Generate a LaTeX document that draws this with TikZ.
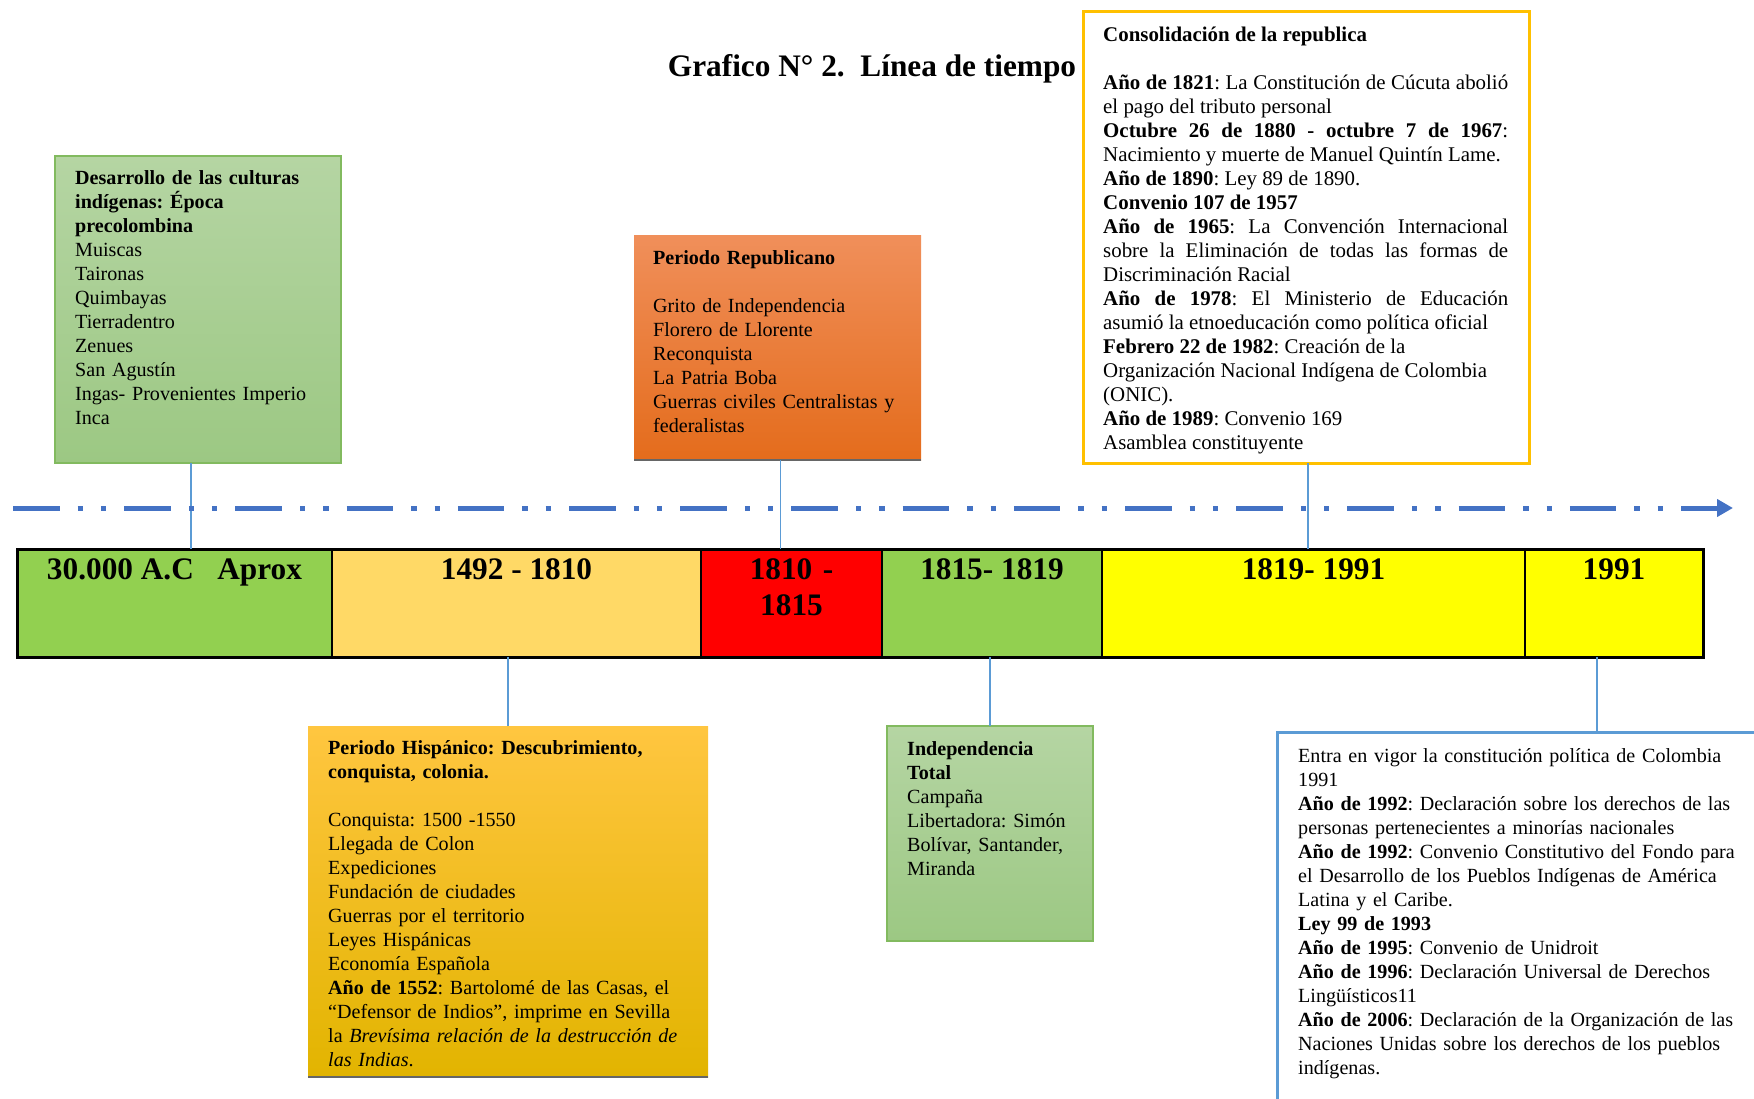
\documentclass[tikz,border=0pt]{standalone}
\usepackage{fontspec}
\setmainfont{Liberation Serif}
\usepackage{tikz}
\usetikzlibrary{arrows.meta,positioning,fit}
\usepackage{xcolor}
\frenchspacing

\definecolor{lineblue}{RGB}{68,114,196}
\definecolor{linkblue}{RGB}{91,155,213}
\definecolor{barGreen}{RGB}{146,208,80}
\definecolor{barSand}{RGB}{255,217,102}
\definecolor{barRed}{RGB}{255,0,0}
\definecolor{barYellow}{RGB}{255,255,0}
\definecolor{gold}{RGB}{255,192,0}
\definecolor{goldTop}{RGB}{255,198,64}
\definecolor{goldBot}{RGB}{226,180,0}
\definecolor{greenTop}{RGB}{181,213,163}
\definecolor{greenBot}{RGB}{156,200,131}
\definecolor{greenEdge}{RGB}{130,186,95}
\definecolor{orangeTop}{RGB}{240,143,90}
\definecolor{orangeBot}{RGB}{228,108,28}

\begin{document}
\begin{tikzpicture}[x=1pt,y=-1pt,
	greenbox/.style={top color=greenTop,bottom color=greenBot,draw=greenEdge,line width=1.5},
	shadowedge/.style={draw=black!60,line width=2.5},
	link/.style={draw=linkblue,line width=1.2},
	timeline/.style={draw=lineblue,line width=5,dash pattern=on 46.6pt off 18pt on 5.3pt off 18pt on 5.3pt off 18pt,-{Triangle[length=16pt,width=17pt]}}]
	\useasboundingbox (0,0) rectangle (1754,1099);
	\clip (0,0) rectangle (1754,1099);

	\begin{scope}[every node/.style={rectangle,anchor=north west,inner sep=0pt,outer sep=0pt}]
		\node[greenbox,minimum width=286,minimum height=307] (cultures) at (55,156) {};
		\node[top color=orangeTop,bottom color=orangeBot,minimum width=287,minimum height=224] (republic) at (634,236) {};
		\node[draw=gold,line width=3,fill=white,minimum width=446,minimum height=451] (consol) at (1083,12) {};
		\node[top color=goldTop,middle color=gold,bottom color=goldBot,minimum width=400,minimum height=351] (hispanic) at (308,726) {};
		\node[greenbox,minimum width=206,minimum height=215] (indep) at (887,726) {};
		\node[draw=linkblue,line width=3,fill=white,minimum width=640,minimum height=500] (charter) at (1277,732) {};
	\end{scope}
	\draw[shadowedge] (republic.south west) -- (republic.south east);
	\draw[shadowedge] (hispanic.south west) -- (hispanic.south east);

	\begin{scope}[every node/.style={rectangle,draw,line width=2,outer sep=0pt,inner sep=0pt,minimum height=108}]
		\node[fill=barGreen,minimum width=315,anchor=north west] (s1) at (17,549) {};
		\node[fill=barSand,minimum width=369,right=0pt of s1] (s2) {};
		\node[fill=barRed,minimum width=181,right=0pt of s2] (s3) {};
		\node[fill=barGreen,minimum width=220,right=0pt of s3] (s4) {};
		\node[fill=barYellow,minimum width=423,right=0pt of s4] (s5) {};
		\node[fill=barYellow,minimum width=178,right=0pt of s5] (s6) {};
		\node[fit=(s1) (s6),line width=3] (bar) {};
	\end{scope}

	\begin{scope}[every node/.style={font=\fontsize{31.3}{36}\selectfont\bfseries,inner sep=0pt,anchor=base}]
		\node (title) at (872,77) {Grafico N° 2.\ \ Línea de tiempo};
		\node (y1) at ([shift={(0,30)}]s1.north) {30.000 A.C\ \ \ Aprox};
		\node (y2) at ([shift={(0,30)}]s2.north) {1492 - 1810};
		\node[text width=170,align=center] (y3) at ([shift={(0,30)}]s3.north) {1810 -\\1815};
		\node (y4) at ([shift={(0,30)}]s4.north) {1815- 1819};
		\node (y5) at ([shift={(0,30)}]s5.north) {1819- 1991};
		\node (y6) at ([shift={(0,30)}]s6.north) {1991};
	\end{scope}

	\draw[link] ([xshift=-7pt]cultures.south) -- ([xshift=-7pt]cultures.south |- s1.north);
	\draw[link] ([xshift=3pt]republic.south) -- ([xshift=3pt]republic.south |- s3.north);
	\draw[link] ([xshift=2pt]consol.south) -- ([xshift=2pt]consol.south |- s5.north);
	\draw[link] (hispanic.north) -- (hispanic.north |- s2.south);
	\draw[link] (indep.north) -- (indep.north |- s4.south);
	\draw[link] (charter.north) -- (charter.north |- s6.south);

	\coordinate (tstart) at (13,508);
	\coordinate (tend) at (1733,508);
	\draw[timeline] (tstart) -- (tend);

	\begin{scope}[every node/.style={font=\fontsize{20.1}{24}\selectfont,inner sep=0pt,anchor=base west,align=left}]
		\node[text width=260] (culturestext) at ([shift={(20,29)}]cultures.north west) {\textbf{Desarrollo de las culturas}\\ \textbf{indígenas: Época}\\ \textbf{precolombina}\\ Muiscas\\ Taironas\\ Quimbayas\\ Tierradentro\\ Zenues\\ San Agustín\\ Ingas- Provenientes Imperio\\ Inca};
		\node[text width=262] (republictext) at ([shift={(19,29)}]republic.north west) {\textbf{Periodo Republicano}\\[24pt] Grito de Independencia\\ Florero de Llorente\\ Reconquista\\ La Patria Boba\\ Guerras civiles Centralistas y\\ federalistas};
		\node[text width=405,align=justify,font=\fontsize{20.9}{24}\selectfont] (consoltext) at ([shift={(20,30)}]consol.north west) {\textbf{Consolidación de la republica}\\[24pt]
			\textbf{Año de 1821}: La Constitución de Cúcuta abolió\linebreak el pago del tributo personal\\
			\textbf{Octubre 26 de 1880 - octubre 7 de 1967}:\linebreak Nacimiento y muerte de Manuel Quintín Lame.\\
			\textbf{Año de 1890}: Ley 89 de 1890.\\
			\textbf{Convenio 107 de 1957}\\
			\textbf{Año de 1965}: La Convención Internacional\linebreak sobre la Eliminación de todas las formas de\linebreak Discriminación Racial\\
			\textbf{Año de 1978}: El Ministerio de Educación\linebreak asumió la etnoeducación como política oficial\\
			\textbf{Febrero 22 de 1982}: Creación de la\\ Organización Nacional Indígena de Colombia\\ (ONIC).\\
			\textbf{Año de 1989}: Convenio 169\\
			Asamblea constituyente};
		\node[text width=375] (hispanictext) at ([shift={(20,28)}]hispanic.north west) {\textbf{Periodo Hispánico: Descubrimiento,}\\ \textbf{conquista, colonia.}\\[24pt] Conquista: 1500 -1550\\ Llegada de Colon\\ Expediciones\\ Fundación de ciudades\\ Guerras por el territorio\\ Leyes Hispánicas\\ Economía Española\\ \textbf{Año de 1552}: Bartolomé de las Casas, el\\ “Defensor de Indios”, imprime en Sevilla\\ la \textit{Brevísima relación de la destrucción de}\\ \textit{las Indias}.};
		\node[text width=185] (indeptext) at ([shift={(20,29)}]indep.north west) {\textbf{Independencia}\\ \textbf{Total}\\ Campaña\\ Libertadora: Simón\\ Bolívar, Santander,\\ Miranda};
		\node[text width=455] (chartertext) at ([shift={(21,30)}]charter.north west) {Entra en vigor la constitución política de Colombia\\ 1991\\ \textbf{Año de 1992}: Declaración sobre los derechos de las\\ personas pertenecientes a minorías nacionales\\ \textbf{Año de 1992}: Convenio Constitutivo del Fondo para\\ el Desarrollo de los Pueblos Indígenas de América\\ Latina y el Caribe.\\ \textbf{Ley 99 de 1993}\\ \textbf{Año de 1995}: Convenio de Unidroit\\ \textbf{Año de 1996}: Declaración Universal de Derechos\\ Lingüísticos11\\ \textbf{Año de 2006}: Declaración de la Organización de las\\ Naciones Unidas sobre los derechos de los pueblos\\ indígenas.};
	\end{scope}
\end{tikzpicture}
\end{document}
